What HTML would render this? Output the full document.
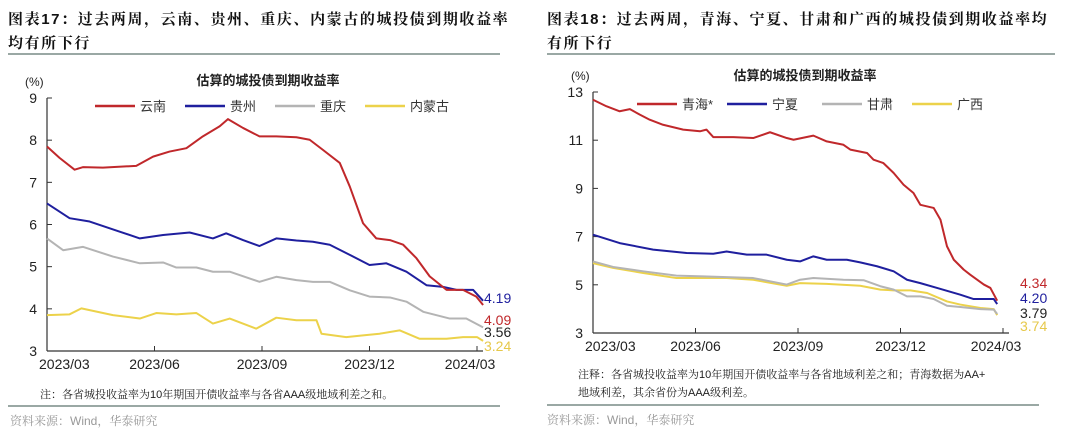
<!DOCTYPE html>
<html><head><meta charset="utf-8"><style>
body{margin:0;width:1080px;height:433px;background:#fff;overflow:hidden;font-family:"Liberation Sans","Noto Sans CJK SC",sans-serif;}
.t{position:absolute;font-weight:bold;font-size:15px;color:#111;letter-spacing:1.6px;font-family:"Liberation Sans","Noto Serif CJK SC",serif;}
.n{position:absolute;font-size:11px;color:#222;font-family:"Liberation Sans","Noto Serif CJK SC",serif;}
.s{position:absolute;font-size:12px;color:#999;font-family:"Liberation Sans","Noto Serif CJK SC",serif;}
.hr{position:absolute;height:2px;background:#9aa8a4;}
</style></head><body>
<div class="t" style="left:8px;top:8px;">图表17：过去两周，云南、贵州、重庆、内蒙古的城投债到期收益率</div>
<div class="t" style="left:8px;top:32px;">均有所下行</div>
<div class="hr" style="left:8px;top:53px;width:492px;"></div>
<div class="t" style="left:547px;top:8px;">图表18：过去两周，青海、宁夏、甘肃和广西的城投债到期收益率均</div>
<div class="t" style="left:547px;top:32px;">有所下行</div>
<div class="hr" style="left:547px;top:53px;width:508px;"></div>
<div class="n" style="left:40px;top:386px;">注：各省城投收益率为10年期国开债收益率与各省AAA级地域利差之和。</div>
<div class="hr" style="left:8px;top:405px;width:492px;"></div>
<div class="s" style="left:10px;top:412px;">资料来源：Wind，华泰研究</div>
<div class="n" style="left:578px;top:366px;line-height:18px;">注释：各省城投收益率为10年期国开债收益率与各省地域利差之和；青海数据为AA+<br>地域利差，其余省份为AAA级利差。</div>
<div class="hr" style="left:547px;top:404px;width:492px;"></div>
<div class="s" style="left:547px;top:411px;">资料来源：Wind，华泰研究</div>
<svg id="svg" width="1080" height="433" style="position:absolute;left:0;top:0"></svg>
<script>
// months since 2023/03
const xTickLabels=["2023/03","2023/06","2023/09","2023/12","2024/03"];
const L_yTicks=[3,4,5,6,7,8,9];
const R_yTicks=[3,5,7,9,11,13];
const L_names=["云南","贵州","重庆","内蒙古"];
const R_names=["青海*","宁夏","甘肃","广西"];
const colors=["#c0282b","#1f1f9e","#b4b4b4","#ecd24a"];
const L_yn_t=[0,.35,.77,1.0,1.56,2.49,2.96,3.42,3.89,4.35,4.82,5.05,5.47,5.93,6.4,6.96,7.33,7.7,8.17,8.45,8.82,9.19,9.57,9.94,10.31,10.68,11.15,11.61,11.98,12.17];
const L_yn_v=[7.85,7.58,7.30,7.36,7.35,7.39,7.61,7.73,7.81,8.09,8.33,8.50,8.29,8.09,8.09,8.07,8.01,7.77,7.46,6.90,6.03,5.67,5.63,5.52,5.20,4.77,4.45,4.45,4.29,4.09];
const L_gz_t=[0,.63,1.19,2.03,2.59,3.24,3.98,4.63,5.0,5.47,5.93,6.4,6.96,7.42,7.89,8.45,9.0,9.47,10.03,10.59,11.05,11.43,11.89,12.17];
const L_gz_v=[6.50,6.15,6.07,5.83,5.67,5.75,5.81,5.67,5.79,5.63,5.49,5.67,5.62,5.59,5.52,5.28,5.04,5.08,4.88,4.56,4.52,4.45,4.45,4.19];
const L_cq_t=[0,.45,1.0,1.84,2.59,3.24,3.61,4.17,4.63,5.1,5.93,6.4,6.96,7.42,7.89,8.45,9.0,9.57,10.03,10.5,11.24,11.7,12.17];
const L_cq_v=[5.67,5.39,5.47,5.24,5.08,5.10,4.98,4.98,4.88,4.88,4.64,4.76,4.68,4.64,4.64,4.44,4.29,4.27,4.17,3.93,3.77,3.77,3.56];
const L_nm_t=[0,.63,.96,1.84,2.59,3.05,3.61,4.17,4.63,5.1,5.84,6.4,6.96,7.52,7.66,8.35,8.82,9.28,9.84,10.4,11.15,11.61,12.0,12.17];
const L_nm_v=[3.85,3.87,4.01,3.85,3.77,3.90,3.87,3.90,3.65,3.77,3.53,3.79,3.73,3.73,3.41,3.33,3.37,3.41,3.49,3.29,3.29,3.33,3.33,3.24];
const R_qh_t=[0,.39,.78,1.08,1.37,1.66,2.05,2.64,3.13,3.32,3.52,4.11,4.69,5.18,5.67,5.87,6.45,6.84,7.33,7.53,8.02,8.21,8.5,8.8,9.09,9.38,9.58,9.97,10.17,10.36,10.56,10.85,11.04,11.44,11.63,11.83];
const R_qh_v=[12.68,12.41,12.20,12.29,12.06,11.85,11.64,11.44,11.37,11.44,11.13,11.13,11.09,11.33,11.09,11.02,11.19,10.95,10.81,10.61,10.47,10.19,10.05,9.64,9.15,8.81,8.32,8.19,7.70,6.60,6.04,5.63,5.42,5.01,4.87,4.34];
const R_nx_t=[0,.78,1.76,2.74,3.52,3.91,4.5,5.08,5.67,6.06,6.45,6.84,7.43,7.82,8.31,8.8,9.19,9.58,10.07,10.75,11.14,11.73,11.83];
const R_nx_v=[7.08,6.73,6.46,6.32,6.29,6.38,6.25,6.25,6.04,5.97,6.18,6.04,6.04,5.93,5.77,5.56,5.21,5.07,4.87,4.59,4.41,4.41,4.20];
const R_gs_t=[0,.59,1.47,2.44,3.23,3.91,4.69,5.67,6.06,6.45,7.33,7.92,8.41,8.8,9.19,9.58,9.97,10.36,10.75,11.34,11.73,11.83];
const R_gs_v=[5.97,5.74,5.56,5.38,5.35,5.32,5.28,5.01,5.21,5.28,5.21,5.19,4.94,4.80,4.52,4.52,4.41,4.13,4.08,3.99,3.97,3.79];
const R_gx_t=[0,.59,1.47,2.44,3.23,3.91,4.69,5.67,6.06,6.84,7.82,8.41,8.8,9.29,9.78,10.36,10.75,11.34,11.73,11.83];
const R_gx_v=[5.90,5.70,5.49,5.28,5.28,5.28,5.21,4.96,5.07,5.04,4.96,4.80,4.77,4.77,4.66,4.31,4.18,4.04,3.99,3.74];
const L_end=["4.09","4.19","3.56","3.24"];
const R_end=["4.34","4.20","3.79","3.74"];

const svg=document.getElementById('svg');const NS="http://www.w3.org/2000/svg";
function mk(tag,attrs,txt){const e=document.createElementNS(NS,tag);for(const k in attrs)e.setAttribute(k,attrs[k]);if(txt!==undefined)e.textContent=txt;svg.appendChild(e);return e;}
function chart(cfg){
  const {x0,x1,y0,y1,ymin,ymax,yt,series,names,ends,endPos,pfx,titleX,titleY,legY,legX}=cfg;
  const X=t=>x0+(x1-x0)*t/12, Y=v=>y0+(y1-y0)*(v-ymin)/(ymax-ymin);
  let e=mk('line',{x1:x0,y1:Y(ymax),x2:x0,y2:Y(ymin),stroke:'#333','stroke-width':1.2});
  
  e=mk('line',{x1:x0,y1:Y(ymin),x2:x1+6,y2:Y(ymin),stroke:'#333','stroke-width':1.2});
  
  yt.forEach(v=>{mk('line',{x1:x0,y1:Y(v),x2:x0+5,y2:Y(v),stroke:'#333'});
    e=mk('text',{x:x0-10,y:Y(v)+5,'text-anchor':'end','font-size':14,fill:'#222'},v);
    });
  xTickLabels.forEach((l,i)=>{const x=X(i*3);mk('line',{x1:x,y1:Y(ymin),x2:x,y2:Y(ymin)-5,stroke:'#333'});
    e=mk('text',{x:i==0?x-8:(i==4?x-7:x),y:Y(ymin)+18,'text-anchor':i==0?'start':'middle','font-size':14,fill:'#222'},l);
    });
  e=mk('text',{x:x0-22,y:Y(ymax)-12,'font-size':12,fill:'#222'},'(%)');
  
  e=mk('text',{x:titleX,y:titleY,'text-anchor':'middle','font-size':13,'font-weight':'bold',fill:'#222'},'估算的城投债到期收益率');
  
  [3,2,1,0].forEach(i=>{const [ts,vs]=series[i];
    e=mk('polyline',{points:ts.map((t,j)=>X(t)+','+Y(vs[j])).join(' '),fill:'none',stroke:colors[i],'stroke-width':2,'stroke-linejoin':'round'});
    });
  names.forEach((n,i)=>{const lx=legX[i];
    e=mk('line',{x1:lx,y1:legY,x2:lx+40,y2:legY,stroke:colors[i],'stroke-width':2.5});
    
    e=mk('text',{x:lx+45,y:legY+5,'font-size':13,fill:'#333'},n);
    });
  ends.forEach((v,i)=>{const c=i==2?'#222':(i==3?'#e6c84a':colors[i]);
    e=mk('text',{x:endPos[i][0],y:endPos[i][1],'font-size':14,fill:c},v);
    });
}
chart({x0:47,x1:477,y0:351,y1:98,ymin:3,ymax:9,yt:L_yTicks,pfx:'left',
  series:[[L_yn_t,L_yn_v],[L_gz_t,L_gz_v],[L_cq_t,L_cq_v],[L_nm_t,L_nm_v]],names:L_names,ends:L_end,
  endPos:[[484,325],[484,303],[484,337],[484,351]],titleX:268,titleY:85,legY:106,legX:[95,185,275,365]});
chart({x0:593,x1:1003,y0:333,y1:92,ymin:3,ymax:13,yt:R_yTicks,pfx:'right',
  series:[[R_qh_t,R_qh_v],[R_nx_t,R_nx_v],[R_gs_t,R_gs_v],[R_gx_t,R_gx_v]],names:R_names,ends:R_end,
  endPos:[[1020,288],[1020,303],[1020,318],[1020,331]],titleX:805,titleY:80,legY:104,legX:[637,727,822,912]});
</script>
</body></html>
